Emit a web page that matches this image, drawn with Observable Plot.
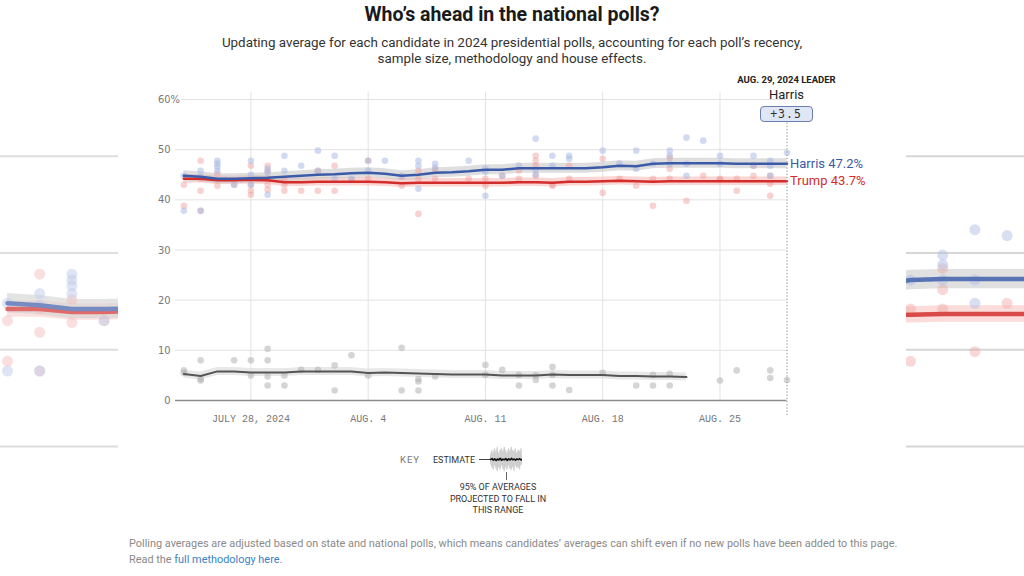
<!DOCTYPE html>
<html><head><meta charset="utf-8">
<script src="https://cdn.jsdelivr.net/npm/d3@7"></script>
<script src="https://cdn.jsdelivr.net/npm/@observablehq/plot@0.6"></script>
<style>
body{margin:0;background:#fff;}
#root{position:relative;width:1024px;height:576px;overflow:hidden;font-family:Roboto,"Noto Sans",sans-serif;background:#fff;}
.abs{position:absolute;}
#title{left:0;width:1024px;top:3px;text-align:center;font-size:19.5px;font-weight:700;color:#1a1a1a;line-height:24px;}
#subtitle{left:0;width:1024px;top:35px;text-align:center;font-size:13.4px;color:#333;line-height:16px;}
#footer{left:129px;top:536px;font-size:10.9px;color:#8a8a8a;line-height:15.5px;}
#footer a{color:#3a82c4;text-decoration:none;}
.lead{text-align:center;width:140px;}
#leadDate{top:74px;font-size:9.5px;font-weight:700;color:#222;line-height:12px;}
#leadName{top:87px;font-size:13px;color:#222;line-height:16px;}
#leadBox{top:106px;height:14px;width:51px;border:1px solid #6b7fae;border-radius:4px;background:#dfe7f6;font-family:"DejaVu Sans Mono",monospace;font-size:11.5px;line-height:14px;text-align:center;color:#333;letter-spacing:1px;}
#keyLab{left:400px;top:454px;font-size:9.5px;color:#777;letter-spacing:1px;line-height:12px;}
#keyEst{left:433px;top:454px;font-size:9px;color:#333;line-height:12px;}
#keyNote{left:438px;width:120px;top:482px;text-align:center;font-size:9px;color:#333;line-height:11.5px;}
.side{overflow:hidden;width:118px;height:320px;top:140px;}
</style></head><body><div id="root"></div>
<script>
// ---------- data ----------
const titleText = "Who’s ahead in the national polls?";
const subtitleLines = ["Updating average for each candidate in 2024 presidential polls, accounting for each poll’s recency,", "sample size, methodology and house effects."];
const footerText = "Polling averages are adjusted based on state and national polls, which means candidates’ averages can shift even if no new polls have been added to this page.";
const firstDay = "2024-07-24";
const candidates = ["Harris", "Trump"];
// daily averages from Jul 24 to Aug 29
const harrisAvg = [44.8,44.6,44.2,44.2,44.3,44.4,44.6,44.8, 45.0,45.1,45.3,45.4,45.2,44.8,45.0,45.4,45.5,45.7,46.0,46.0,46.3,46.3,46.3,46.3,46.3,46.5,46.8,46.7,47.2,47.3,47.3,47.3,47.3,47.2,47.2,47.2,47.2];
const trumpAvg  = [44.2,44.2,43.9,43.9,44.0,43.9,43.5,43.5, 43.6,43.6,43.6,43.6,43.5,43.3,43.4,43.4,43.4,43.4,43.4,43.4,43.5,43.5,43.4,43.6,43.6,43.7,43.8,43.7,43.6,43.7,43.7,43.7,43.7,43.7,43.7,43.7,43.7];
// other candidates, Jul 24 to Aug 23
const otherAvg  = [5.3,4.9,5.8,5.8,5.6,5.6,5.6,5.8, 5.8,5.8,5.8,5.5,5.6,5.5,5.4,5.3,5.2,5.2,5.2,5.0,5.0,5.0,5.2,5.1,5.1,5.1,4.9,4.9,4.8,4.8,4.7];
const harrisBand = 1.0, trumpBand = 0.85, otherBand = 0.8;
// individual polls [date, value]
const harrisPolls = [["07-24",44.8],["07-24",37.8],["07-25",45.8],["07-25",44.6],["07-25",37.8],["07-26",47.8],["07-26",47.2],["07-26",46.6],["07-26",45.8],["07-27",43],
 ["07-28",47.8],["07-28",45],["07-28",43],["07-29",46.2],["07-29",45.4],["07-29",41],["07-30",48.8],["07-30",45.8],["07-31",46.8],["08-01",49.8],["08-01",45.8],
 ["08-02",48.8],["08-02",44.2],["08-03",44.2],["08-04",47.8],["08-04",45.8],["08-05",47.8],["08-06",44.8],["08-07",47.8],["08-07",46.8],["08-07",42.2],["08-08",47.2],["08-08",46.4],
 ["08-10",47.8],["08-11",46.2],["08-11",45.6],["08-11",40.8],["08-12",44.8],["08-13",46.8],["08-14",52.2],["08-14",46],["08-14",45],["08-15",48.8],["08-15",46.8],["08-16",48.8],["08-16",48.2],
 ["08-18",49.8],["08-19",47.2],["08-20",49.8],["08-20",46.2],["08-21",47.2],["08-22",49.8],["08-22",48.8],["08-22",47.2],["08-23",52.4],["08-23",47.2],["08-23",44.8],["08-24",51.8],
 ["08-25",48.8],["08-25",47.2],["08-27",48.8],["08-27",46.8],["08-28",47.8],["08-28",46.8],["08-28",44.8],["08-29",49.4]];
const trumpPolls = [["07-24",43],["07-24",38.8],["07-25",47.8],["07-25",44.2],["07-25",41.8],["07-25",37.8],["07-26",45.2],["07-26",42.8],["07-27",43],
 ["07-28",46.8],["07-28",43],["07-28",41.8],["07-28",41],["07-29",46.8],["07-29",45.8],["07-29",44.2],["07-29",43],["07-29",42],["07-30",44.2],["07-30",43],["07-30",41.8],["07-31",41.8],
 ["08-01",45.8],["08-01",41.8],["08-02",46.8],["08-02",41.8],["08-03",44],["08-04",47.8],["08-04",44.2],["08-06",44.6],["08-06",42.8],["08-07",45.8],["08-07",44.2],["08-07",37.2],
 ["08-08",46],["08-08",44.2],["08-10",44.2],["08-11",44.2],["08-11",42.8],["08-12",44.8],["08-13",45.8],["08-13",44.2],["08-14",48.8],["08-14",47.8],["08-14",46.8],["08-14",44.8],
 ["08-15",43],["08-15",42.8],["08-16",46.8],["08-16",44.2],["08-18",48.2],["08-18",41.4],["08-19",44.2],["08-20",42.8],["08-21",44.2],["08-21",38.8],["08-22",48.4],["08-22",46.2],["08-22",44.2],
 ["08-23",39.8],["08-24",44.8],["08-25",44.2],["08-25",44],["08-26",44.2],["08-26",41.8],["08-27",46.8],["08-27",44.8],["08-28",44.8],["08-28",43.2],["08-28",40.8]];
const otherPolls = [["07-24",6],["07-24",5.5],["07-25",8],["07-25",4.3],["07-25",4],["07-27",8],["07-28",8],["07-28",5],["07-29",10.3],["07-29",8],["07-29",4.8],["07-29",3],
 ["07-30",5],["07-30",3],["07-31",6.1],["08-01",6.1],["08-02",7],["08-02",2],["08-03",9],["08-04",5],["08-06",10.5],["08-06",2],["08-07",4.3],["08-07",3.8],["08-07",2],["08-08",4.8],
 ["08-11",7.1],["08-11",5.1],["08-12",6.1],["08-13",5.1],["08-13",3],["08-14",5],["08-14",4.1],["08-15",6.7],["08-15",5.1],["08-15",3],["08-16",2.1],["08-18",5.5],["08-20",3],
 ["08-21",5.1],["08-21",3],["08-22",5.3],["08-22",3],["08-25",4],["08-26",6],["08-28",6],["08-28",4.5],["08-29",4.1]];
const xTickDates = ["07-28","08-04","08-11","08-18","08-25"];
const xTickLabels = ["JULY 28, 2024","AUG. 4","AUG. 11","AUG. 18","AUG. 25"];
const yTicks = [0,10,20,30,40,50,60];
const leaderLabel = "AUG. 29, 2024 LEADER";
const keyLabels = ["KEY","ESTIMATE","95% OF AVERAGES","PROJECTED TO FALL IN","THIS RANGE"];
const keyWiggle = [0,0.6,-0.4,0.5,-0.7,0.3,-0.3,0.8,-0.5,0.2,-0.2,0.6,-0.6,0.4,-0.3,0.7,-0.2,0.3,-0.5,0.4,-0.1,0.5,-0.3,0.2];
const keyUpper  = [3,6,4,7,5,8,4,6,7,5,8,6,4,7,5,8,6,5,7,4,6,5,7,3];
const keyLower  = [-3,-5,-7,-4,-6,-8,-5,-7,-4,-6,-8,-5,-7,-4,-6,-7,-5,-8,-4,-6,-5,-7,-4,-3];

// ---------- helpers ----------
const day = s => new Date(`2024-${s}T00:00:00Z`);
const d0 = new Date(firstDay + "T00:00:00Z");
const rows = (vals, band) => vals.map((v, i) => ({date: d3.utcDay.offset(d0, i), v, lo: v - band, hi: v + band}));
const pts = arr => arr.map(([s, v]) => ({date: day(s), v}));
const H = rows(harrisAvg, harrisBand), T = rows(trumpAvg, trumpBand), O = rows(otherAvg, otherBand);
const HP = pts(harrisPolls), TP = pts(trumpPolls), OP = pts(otherPolls);
const lastH = H[H.length-1], lastT = T[T.length-1];
const lastDate = lastH.date;
const xStart = d3.utcHour.offset(d0, -12);
const xTicks = xTickDates.map(day);
const C = {harris:"#3b5ba8", trump:"#d22c2b", other:"#555", hDot:"#a4b6e2", tDot:"#ee9c97", oDot:"#b3b3b3", hBand:"#c2c2c2", tBand:"#f5aeaa", oBand:"#d8d8d8"};
const condensed = "'Liberation Sans Narrow','DejaVu Sans Condensed','Roboto Condensed',sans-serif";

const root = document.getElementById("root");
function div(id, cls, html){const e=document.createElement("div");if(id)e.id=id;e.className="abs "+(cls||"");e.innerHTML=html;root.appendChild(e);return e;}

// ---------- main chart ----------
const main = Plot.plot({
  width: 1024, height: 440,
  marginTop: 99, marginBottom: 40, marginLeft: 175, marginRight: 237.5,
  style: {background: "transparent", overflow: "visible"},
  x: {type: "utc", domain: [xStart, lastDate], axis: null},
  y: {domain: [0, 60], axis: null},
  marks: [
    Plot.ruleX(xTicks, {y1: 0, y2: 61.5, stroke: "#e2e2e2"}),
    Plot.ruleY(yTicks.filter(d => d > 0), {x1: xStart, x2: lastDate, stroke: "#e2e2e2"}),
    Plot.areaY(O, {x: "date", y1: "lo", y2: "hi", fill: C.oBand, fillOpacity: 0.6}),
    Plot.areaY(T, {x: "date", y1: "lo", y2: "hi", fill: C.tBand, fillOpacity: 0.5}),
    Plot.areaY(H, {x: "date", y1: "lo", y2: "hi", fill: C.hBand, fillOpacity: 0.55}),
    Plot.dot(OP, {x: "date", y: "v", r: 3.3, fill: C.oDot, fillOpacity: 0.55}),
    Plot.dot(TP, {x: "date", y: "v", r: 3.3, fill: C.tDot, fillOpacity: 0.45}),
    Plot.dot(HP, {x: "date", y: "v", r: 3.3, fill: C.hDot, fillOpacity: 0.5}),
    Plot.ruleY([0], {x1: xStart, x2: lastDate, stroke: "#8c8c8c", strokeWidth: 1.6}),
    Plot.line(O, {x: "date", y: "v", stroke: C.other, strokeWidth: 2}),
    Plot.line(T, {x: "date", y: "v", stroke: C.trump, strokeWidth: 2.6}),
    Plot.line(H, {x: "date", y: "v", stroke: C.harris, strokeWidth: 2.6}),
    Plot.ruleX([lastDate], {y1: -3, y2: 55.8, stroke: "#888", strokeDasharray: "1.2,2"}),
    Plot.text(yTicks, {x: xStart, y: d => d, text: d => String(d), textAnchor: "end", dx: -5, fill: "#777", fontSize: 11, fontFamily: condensed}),
    Plot.text([60], {x: xStart, y: d => d, text: () => "%", textAnchor: "start", dx: -5, fill: "#777", fontSize: 11, fontFamily: condensed, stroke: "white", strokeWidth: 3, paintOrder: "stroke"}),
    Plot.text(xTicks, {x: d => d, y: 0, dy: 18, text: (d, i) => xTickLabels[i], fill: "#777", fontSize: 10, fontFamily: "'Liberation Mono','DejaVu Sans Mono',monospace"}),
    Plot.text([lastH], {x: "date", y: "v", text: d => `${candidates[0]} ${d.v.toFixed(1)}%`, textAnchor: "start", dx: 3, fill: C.harris, fontSize: 13, fontFamily: "Roboto,sans-serif"}),
    Plot.text([lastT], {x: "date", y: "v", text: d => `${candidates[1]} ${d.v.toFixed(1)}%`, textAnchor: "start", dx: 3, fill: C.trump, fontSize: 13, fontFamily: "Roboto,sans-serif"})
  ]
});
main.style.position = "absolute"; main.style.left = "0px"; main.style.top = "0px";
root.appendChild(main);

// ---------- side zoom panels ----------
function panel(anchorDay, anchorPx, left, opacity, blur){
  const pxPerDay = 32.2, w = 118, h = 320;
  const a = day(anchorDay).getTime(), ms = 864e5;
  const dom = [new Date(a - anchorPx/pxPerDay*ms), new Date(a + (w-anchorPx)/pxPerDay*ms)];
  const p = Plot.plot({
    width: w, height: h, margin: 0,
    style: {background: "transparent"},
    x: {type: "utc", domain: dom, axis: null},
    y: {domain: [28.55, 61.62], axis: null},
    marks: [
      Plot.ruleY([30,40,50,60], {stroke: "#cfcfcf", strokeWidth: 2}),
      Plot.areaY(T, {x: "date", y1: "lo", y2: "hi", fill: C.tBand, fillOpacity: 0.5}),
      Plot.areaY(H, {x: "date", y1: "lo", y2: "hi", fill: C.hBand, fillOpacity: 0.6}),
      Plot.dot(TP, {x: "date", y: "v", r: 5.5, fill: C.tDot, fillOpacity: 0.45}),
      Plot.dot(HP, {x: "date", y: "v", r: 5.5, fill: C.hDot, fillOpacity: 0.5}),
      Plot.line(T, {x: "date", y: "v", stroke: C.trump, strokeWidth: 4.5}),
      Plot.line(H, {x: "date", y: "v", stroke: C.harris, strokeWidth: 4.5})
    ]
  });
  const wrap = div(null, "side", "");
  wrap.style.left = left + "px";
  wrap.style.opacity = opacity;
  wrap.style.filter = `blur(${blur}px)`;
  wrap.appendChild(p);
}
panel("07-24", 7, 0, 0.7, 0.7);
panel("08-21", 4, 906, 0.85, 0.5);

// ---------- text ----------
div("title", "", titleText);
div("subtitle", "", subtitleLines.join("<br>"));
div("footer", "", footerText + "<br>Read the <a>full methodology here</a>.");
const lx = main.scale("x").apply(lastDate);
const lead = (lastH.v >= lastT.v) ? lastH : lastT;
const leadName = lead === lastH ? candidates[0] : candidates[1];
const e1 = div("leadDate", "lead", leaderLabel); e1.style.left = (lx - 70) + "px";
const e2 = div("leadName", "lead", leadName); e2.style.left = (lx - 70) + "px";
const e3 = div("leadBox", "", "+" + Math.abs(lastH.v - lastT.v).toFixed(1)); e3.style.left = (lx - 27) + "px";

// ---------- key ----------
div("keyLab", "", keyLabels[0]);
div("keyEst", "", keyLabels[1]);
div("keyNote", "", keyLabels.slice(2).join("<br>"));
const conn = div(null, "", ""); Object.assign(conn.style, {left: "479px", top: "459px", width: "12px", height: "1px", background: "#444"});
const tick = div(null, "", ""); Object.assign(tick.style, {left: "506px", top: "472px", width: "1px", height: "8px", background: "#666"});
const keyRows = keyWiggle.map((v, i) => ({i, v, hi: keyUpper[i], lo: keyLower[i]}));
const keyPlot = Plot.plot({
  width: 32, height: 26, margin: 0,
  style: {background: "transparent"},
  x: {domain: [0, keyRows.length - 1], axis: null},
  y: {domain: [-8.5, 8.5], axis: null},
  marks: [
    Plot.areaY(keyRows, {x: "i", y1: "lo", y2: "hi", fill: "#dadada"}),
    Plot.ruleX(keyRows, {x: "i", y1: "lo", y2: "hi", stroke: "#c8c8c8", strokeWidth: 0.8}),
    Plot.line(keyRows, {x: "i", y: "v", stroke: "#111", strokeWidth: 1.6})
  ]
});
const kw = div(null, "", ""); Object.assign(kw.style, {left: "490px", top: "446px"}); kw.appendChild(keyPlot);
</script>
</body></html>
